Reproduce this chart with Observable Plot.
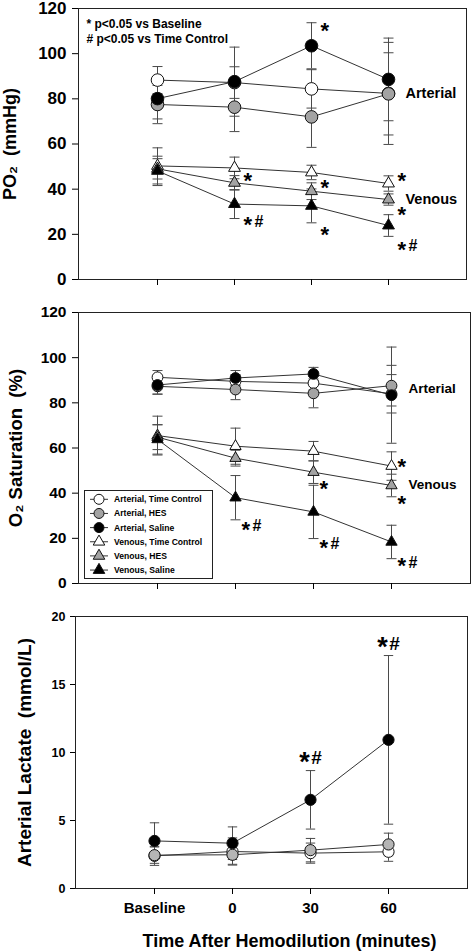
<!DOCTYPE html>
<html>
<head>
<meta charset="utf-8">
<script src="https://cdn.jsdelivr.net/npm/d3@7"></script>
<script src="https://cdn.jsdelivr.net/npm/@observablehq/plot@0.6"></script>
<style>
  body { margin: 0; background: #fff; }
  #page { position: relative; width: 472px; height: 952px; overflow: hidden; background: #fff; }
  .panel { position: absolute; left: 0; width: 472px; }
  svg text { font-family: "Liberation Sans", Arial, sans-serif; font-weight: bold; }
  #legend { position: absolute; left: 84px; top: 200px; }
</style>
</head>
<body>
<div id="page">
  <div class="panel" id="p1" style="top:0px"></div>
  <div class="panel" id="p2" style="top:290px"></div>
  <div class="panel" id="p3" style="top:600px"></div>
</div>
<script>
// ---------------- DATA ----------------
const times = ["Baseline", "0", "30", "60"];
const groups = ["Arterial, Time Control", "Arterial, HES", "Arterial, Saline",
                "Venous, Time Control", "Venous, HES", "Venous, Saline"];
const arterialGroups = ["Arterial, Time Control", "Arterial, HES", "Arterial, Saline"];

// PO2 (mmHg): means and SD
const po2ArtTC  = [88.3, 87.2, 84.4, 82.4];
const po2ArtHES = [77.5, 76.3, 72.0, 82.2];
const po2ArtSal = [80.1, 87.6, 103.5, 88.6];
const po2VenTC  = [50.3, 49.4, 47.4, 42.5];
const po2VenHES = [49.0, 42.8, 39.1, 35.4];
const po2VenSal = [48.1, 33.4, 32.6, 23.9];
const po2ArtTCsd  = [6.0, 7.0, 8.5, 22.6];
const po2ArtHESsd = [8.5, 10.8, 13.5, 18.2];
const po2ArtSalsd = [9.0, 15.3, 10.2, 18.3];
const po2VenTCsd  = [8.0, 4.8, 3.2, 3.4];
const po2VenHESsd = [4.5, 3.2, 3.7, 2.5];
const po2VenSalsd = [6.5, 6.4, 7.5, 4.8];

// O2 saturation (%)
const so2ArtTC  = [91.3, 89.5, 88.7, 84.0];
const so2ArtHES = [87.3, 85.9, 84.2, 87.6];
const so2ArtSal = [87.9, 91.0, 92.8, 83.4];
const so2VenTC  = [65.5, 60.8, 58.6, 52.0];
const so2VenHES = [64.8, 55.5, 49.3, 43.4];
const so2VenSal = [63.8, 38.0, 31.7, 18.4];
const so2ArtTCsd  = [3.0, 3.0, 3.0, 8.5];
const so2ArtHESsd = [3.5, 4.5, 6.4, 9.0];
const so2ArtSalsd = [4.0, 3.3, 2.9, 21.3];
const so2VenTCsd  = [8.6, 8.0, 4.3, 6.3];
const so2VenHESsd = [5.5, 3.5, 5.0, 5.0];
const so2VenSalsd = [6.5, 9.8, 11.8, 7.4];

// Arterial lactate (mmol/L)
const lacTC  = [2.40, 2.72, 2.60, 2.70];
const lacHES = [2.45, 2.48, 2.82, 3.24];
const lacSal = [3.50, 3.33, 6.52, 10.93];
const lacTCsd  = [0.70, 1.00, 0.74, 0.70];
const lacHESsd = [0.60, 0.70, 0.86, 0.83];
const lacSalsd = [1.33, 1.20, 2.15, 6.20];

// tick values
const po2Ticks = [0, 20, 40, 60, 80, 100, 120];
const so2Ticks = [0, 20, 40, 60, 80, 100, 120];
const lacTicks = [0, 5, 10, 15, 20];

// significance annotations
const po2Signif = [
  {time: "30", value: 111.7, label: "*"},
  {time: "0",  value: 44.9,  label: "*"},
  {time: "0",  value: 25.4,  label: "*#"},
  {time: "30", value: 41.9,  label: "*"},
  {time: "30", value: 21.3,  label: "*"},
  {time: "60", value: 44.9,  label: "*"},
  {time: "60", value: 30.1,  label: "*"},
  {time: "60", value: 14.7,  label: "*#"}
];
const so2Signif = [
  {time: "60", value: 53.0, label: "*"},
  {time: "30", value: 43.4, label: "*"},
  {time: "60", value: 36.8, label: "*"},
  {time: "0",  value: 25.3, label: "*#"},
  {time: "30", value: 17.4, label: "*#"},
  {time: "60", value: 9.1,  label: "*#"}
];
const lacSignif = [
  {time: "30", value: 9.6,  label: "*#"},
  {time: "60", value: 18.0, label: "*#"}
];

// region labels
const po2Regions = [{time: "60", value: 82.5, label: "Arterial"}, {time: "60", value: 35.7, label: "Venous"}];
const so2Regions = [{time: "60", value: 86.2, label: "Arterial"}, {time: "60", value: 43.9, label: "Venous"}];
const notes = ["* p<0.05 vs Baseline", "# p<0.05 vs Time Control"];

// ---------------- STYLES ----------------
const groupFills = ["white", "#a3a3a3", "black", "white", "#a3a3a3", "black"];
const groupSymbols = ["circle", "circle", "circle", "triangle", "triangle", "triangle"];
const FONT = "'Liberation Sans', Arial, sans-serif";
const capSymbol = {
  draw(ctx, size) { const r = Math.sqrt(size / Math.PI); ctx.moveTo(-r, 0); ctx.lineTo(r, 0); }
};

function tidy(names, means, sds) {
  return names.flatMap((g, gi) => times.map((t, ti) => ({group: g, time: t, mean: means[gi][ti], sd: sds[gi][ti]})));
}

const po2Rows = tidy(groups,
  [po2ArtTC, po2ArtHES, po2ArtSal, po2VenTC, po2VenHES, po2VenSal],
  [po2ArtTCsd, po2ArtHESsd, po2ArtSalsd, po2VenTCsd, po2VenHESsd, po2VenSalsd]);
const so2Rows = tidy(groups,
  [so2ArtTC, so2ArtHES, so2ArtSal, so2VenTC, so2VenHES, so2VenSal],
  [so2ArtTCsd, so2ArtHESsd, so2ArtSalsd, so2VenTCsd, so2VenHESsd, so2VenSalsd]);
const lacRows = tidy(arterialGroups, [lacTC, lacHES, lacSal], [lacTCsd, lacHESsd, lacSalsd]);

function seriesMarks(rows, {circleR, triR, capR}) {
  const errStroke = "#4a4a4a";
  return [
    Plot.ruleX(rows, {x: "time", y1: d => d.mean - d.sd, y2: d => d.mean + d.sd, stroke: errStroke, strokeWidth: 1}),
    Plot.dot(rows, {x: "time", y: d => d.mean + d.sd, symbol: capSymbol, r: capR, stroke: errStroke, fill: "none", strokeWidth: 1}),
    Plot.dot(rows, {x: "time", y: d => d.mean - d.sd, symbol: capSymbol, r: capR, stroke: errStroke, fill: "none", strokeWidth: 1}),
    Plot.line(rows, {x: "time", y: "mean", z: "group", stroke: "#333", strokeWidth: 1}),
    Plot.dot(rows.filter(d => d.group.startsWith("Arterial")), {x: "time", y: "mean", fill: "group", symbol: "group", r: circleR, stroke: "#111", strokeWidth: 1}),
    Plot.dot(rows.filter(d => d.group.startsWith("Venous")), {x: "time", y: "mean", fill: "group", symbol: "group", r: triR, stroke: "#111", strokeWidth: 1})
  ];
}

function signifMarks(data, {anchor, starDx, hashDx, starSize, hashSize}) {
  return [
    Plot.text(data, {x: "time", y: "value", text: d => d.label.slice(0, 1), textAnchor: anchor, lineAnchor: "middle",
      dx: starDx, dy: starSize * 0.15, fontSize: starSize, fontWeight: "bold", fill: "black"}),
    Plot.text(data.filter(d => d.label.length > 1), {x: "time", y: "value", text: d => d.label.slice(1), textAnchor: anchor, lineAnchor: "middle",
      dx: hashDx, dy: 0, fontSize: hashSize, fontWeight: "bold", fill: "black"})
  ];
}

function yLabel(text, {dx, size}) {
  return Plot.text([text], {text: d => d, frameAnchor: "left", rotate: -90, dx, lineAnchor: "top", textAnchor: "middle",
    fontSize: size, fontWeight: "bold", fill: "black"});
}

// ---------------- PANEL 1: PO2 ----------------
const p1 = Plot.plot({
  width: 472, height: 290, marginTop: 8, marginBottom: 11, marginLeft: 78, marginRight: 6,
  style: {fontFamily: FONT, background: "white", color: "black", overflow: "visible"},
  x: {type: "point", domain: times, padding: 1},
  y: {domain: [0, 120]},
  color: {domain: groups, range: groupFills},
  symbol: {domain: groups, range: groupSymbols},
  marks: [
    Plot.frame({stroke: "#222"}),
    Plot.axisY({ticks: po2Ticks, tickSize: 6, tickPadding: 6, fontSize: 17, fontWeight: "bold", label: null}),
    Plot.axisX({tickSize: 6, tickFormat: () => "", label: null}),
    yLabel("PO\u2082  (mmHg)", {dx: -75, size: 18}),
    ...seriesMarks(po2Rows, {circleR: 6.3, triR: 4.4, capR: 5}),
    ...signifMarks(po2Signif, {anchor: "start", starDx: 9, hashDx: 20, starSize: 22, hashSize: 16}),
    Plot.text(po2Regions, {x: "time", y: "value", text: "label", textAnchor: "start", dx: 17, fontSize: 14.5, fontWeight: "bold", fill: "black"}),
    Plot.text([notes.join("\n")], {text: d => d, frameAnchor: "top-left", dx: 8, dy: 9.5, lineAnchor: "top", lineHeight: 1.2,
      fontSize: 12, fontWeight: "bold", fill: "black"})
  ]
});
document.getElementById("p1").append(p1);

// ---------------- PANEL 2: O2 saturation ----------------
const p2 = Plot.plot({
  width: 472, height: 310, marginTop: 22, marginBottom: 17, marginLeft: 78, marginRight: 2,
  style: {fontFamily: FONT, background: "white", color: "black", overflow: "visible"},
  x: {type: "point", domain: times, padding: 1},
  y: {domain: [0, 120]},
  color: {domain: groups, range: groupFills},
  symbol: {domain: groups, range: groupSymbols},
  marks: [
    Plot.frame({stroke: "#222"}),
    Plot.axisY({ticks: so2Ticks, tickSize: 6, tickPadding: 6, fontSize: 15.5, fontWeight: "bold", label: null}),
    Plot.axisX({tickSize: 6, tickFormat: () => "", label: null}),
    yLabel("O\u2082 Saturation  (%)", {dx: -70, size: 18.5}),
    ...seriesMarks(so2Rows, {circleR: 5.4, triR: 4.2, capR: 5}),
    ...signifMarks(so2Signif, {anchor: "start", starDx: 6, hashDx: 17, starSize: 22, hashSize: 16}),
    Plot.text(so2Regions, {x: "time", y: "value", text: "label", textAnchor: "start", dx: 17, fontSize: 13.5, fontWeight: "bold", fill: "black"})
  ]
});
document.getElementById("p2").append(p2);

// legend (inside panel 2 frame)
(function legend() {
  const rowH = 14.15, w = 129, h = 89;
  const svg = d3.select("#p2").append("svg").attr("id", "legend").attr("width", w).attr("height", h);
  svg.append("rect").attr("x", 0.5).attr("y", 0.5).attr("width", w - 1).attr("height", h - 1)
    .attr("fill", "white").attr("stroke", "#222");
  groups.forEach((g, i) => {
    const cy = 9.3 + i * rowH;
    const row = svg.append("g").attr("transform", `translate(0,${cy})`);
    row.append("line").attr("x1", 6).attr("x2", 24).attr("stroke", "#333");
    const sym = groupSymbols[i] === "circle" ? d3.symbolCircle : d3.symbolTriangle;
    const size = groupSymbols[i] === "circle" ? Math.PI * 25 : 58;
    row.append("path").attr("transform", "translate(15,0)").attr("d", d3.symbol(sym, size)())
      .attr("fill", groupFills[i]).attr("stroke", "#111");
    row.append("text").attr("x", 30).attr("dy", "0.35em").attr("font-size", 8.6).attr("fill", "black").text(g);
  });
})();

// ---------------- PANEL 3: Lactate ----------------
const p3 = Plot.plot({
  width: 472, height: 352, marginTop: 16, marginBottom: 64, marginLeft: 75, marginRight: 5,
  style: {fontFamily: FONT, background: "white", color: "black", overflow: "visible"},
  x: {type: "point", domain: times, padding: 1},
  y: {domain: [0, 20]},
  color: {domain: arterialGroups, range: ["white", "#b5b5b5", "black"]},
  symbol: {domain: arterialGroups, range: ["circle", "circle", "circle"]},
  marks: [
    Plot.frame({stroke: "#222"}),
    Plot.axisY({ticks: lacTicks, tickSize: 5, tickPadding: 5, fontSize: 12.5, fontWeight: "bold", label: null}),
    Plot.axisX({tickSize: 6, tickPadding: 8, fontSize: 15, fontWeight: "bold", label: null}),
    yLabel("Arterial Lactate  (mmol/L)", {dx: -58, size: 19}),
    ...seriesMarks(lacRows, {circleR: 5.6, triR: 4.2, capR: 4.7}),
    ...signifMarks(lacSignif, {anchor: "middle", starDx: -6, hashDx: 6, starSize: 27, hashSize: 19}),
    Plot.text(["Time After Hemodilution (minutes)"], {text: d => d, frameAnchor: "bottom", dx: 18, dy: 53, lineAnchor: "middle",
      fontSize: 18, fontWeight: "bold", fill: "black"})
  ]
});
document.getElementById("p3").append(p3);
</script>
</body>
</html>
